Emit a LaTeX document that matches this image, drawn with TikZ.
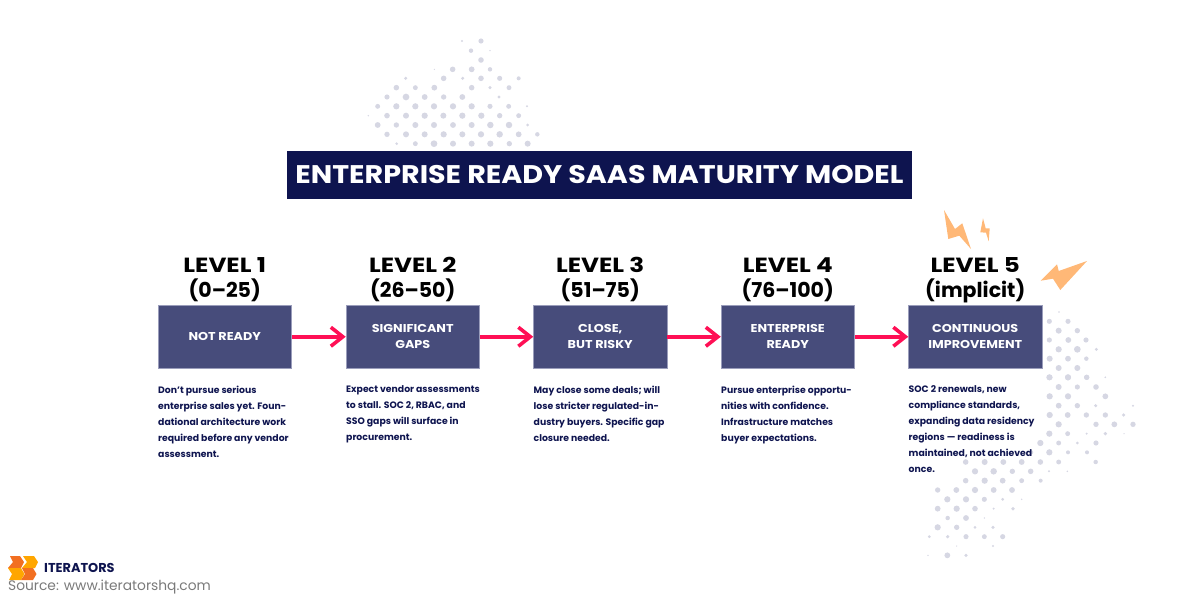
\documentclass[tikz,border=0pt]{standalone}
\usepackage{fontspec}
\setmainfont{Poppins}
\newfontfamily\widefont[FakeStretch=1.12]{Poppins}
\newfontfamily\widerfont[FakeStretch=1.2]{Poppins}
\usetikzlibrary{arrows.meta}
\definecolor{navy}{HTML}{0E144F}
\definecolor{boxfill}{HTML}{474C7B}
\definecolor{boxedge}{HTML}{9A9DBB}
\definecolor{dotc}{HTML}{D6D7E3}
\definecolor{flow}{HTML}{FF0F55}
\definecolor{bolt}{HTML}{FFB877}
\definecolor{logoA}{HTML}{F26F21}
\definecolor{logoB}{HTML}{FFA600}
\definecolor{srcgrey}{HTML}{7A7A7A}
\tikzset{
  x=1pt,y=-1pt,
  dot/.style={fill=dotc},
  boltshape/.style={fill=bolt},
  titlebox/.style={fill=navy,minimum width=625pt,minimum height=48pt,inner sep=0pt,text=white,font=\widefont\fontsize{25.5}{25.5}\selectfont\bfseries},
  levelbox/.style={fill=boxfill,draw=boxedge,line width=.5pt,minimum width=133.5pt,minimum height=62.5pt,inner sep=0pt,text=white,align=center,font=\widefont\fontsize{11.4}{16}\selectfont\bfseries},
  leveltext/.style={anchor=south,align=center,inner sep=0pt,text depth=0pt,text=black,font=\fontsize{20.5}{25}\selectfont\bfseries},
  desc/.style={anchor=north west,align=left,inner sep=0pt,text=navy,font=\fontsize{9.3}{16}\selectfont\bfseries},
  flowline/.style={draw=flow,line width=4pt,-{Straight Barb[length=12pt,width=19pt,line width=3.6pt]}},
}
\begin{document}
\begin{tikzpicture}
\useasboundingbox (0,0) rectangle (1200,600);
% dots top
\foreach \a/\b/\r in {306/33/1,363/33/2.3,333/62/2,390/62/.7,363/90/2.5,223/118/.6,278/118/2.5,335/118/2.6,390/118/2,137/145/1.5,251/145/2.5,308/145/1.5,363/145/2.5,419/145/2.3,476/145/1.8,109/173/2.5,166/173/2.2,223/173/2.6,335/173/2.5,390/173/1.5,447/173/2.2,81/201/2.3,138/201/3,194/201/2.6,251/201/2.4,307/201/2.6,417/201/1.5,53/229/2.2,109/229/2.8,166/229/2.8,222/229/2.8,279/229/2.8,335/229/2.8,390/229/2.3,446/229/2.2,501/229/1,25/257/.7,81/257/2.5,138/257/2.7,194/257/2.8,250/257/2.7,307/257/2.8,364/257/2.8,419/257/2.4,476/257/2.2,53/285/2.6,109/285/2.4,166/285/2.7,222/285/2.7,279/285/2.6,335/285/2.7,391/285/2.9,447/285/2.9,503/285/1.4,81/313/2.4,138/313/2.7,194/313/2.7,251/313/2.8,307/313/2.7,363/313/2.8,419/313/2.9,476/313/2.6,532/313/2,110/341/1.3,166/341/2.2,222/341/3,279/341/2.7,335/341/2.7,391/341/2.8,448/341/2.4,503/341/2.7}
  \fill[dot] ({360+\a/3},{30+\b/3}) circle ({\r*1.12});
% dots right upper
\foreach \a/\b/\r in {417/336/.7,388/364/2.3,444/364/2.3,416/392/2.7,472/392/2.4,388/420/2.3,445/420/2.6,498/420/2.3,416/448/2.8,472/448/3,529/448/1.5,389/476/2.7,444/476/2.6,499/476/2,416/504/2.7,472/504/2.7,388/532/2.7,444/532/2.7,500/532/2.4,556/532/.7}
  \fill[dot] ({920+\a/3},{200+\b/3}) circle ({\r*1.12});
% dots right lower
\foreach \a/\b/\r in {449/22/2.6,504/22/2.7,560/22/2.3,616/22/.7,476/51/2.7,532/51/2.3,588/51/2.5,449/79/2.8,504/79/2.8,616/79/2.6,476/107/2.6,532/107/2.4,587/107/1.5,699/107/1,449/135/2.8,503/135/2.6,559/135/2.4,616/135/2.4,671/135/1.6,476/163/2.8,588/163/2.4,643/163/2.6,699/163/2.4,448/191/2.8,503/191/2.2,560/191/1,616/191/1.7,672/191/.6,421/219/2.8,476/219/2.2,532/219/1.3,588/219/2.3,393/247/2,448/247/2.8,504/247/1.8,561/247/1.8,197/276/2.5,254/276/2.7,310/276/2.6,365/276/2.6,421/276/2.5,476/276/2.2,587/276/2,225/304/2.8,281/304/2.9,337/304/2.4,392/304/2.5,447/304/1,502/304/.8,197/332/2.5,254/332/2.8,308/332/2.6,365/332/2.2,422/332/1.8,113/360/2.4,169/360/2.6,225/360/2.8,281/360/2.6,336/360/2.6,142/388/2.8,198/388/2.8,253/388/2.3,308/388/1.4,365/388/.7,113/416/2.6,170/416/2.8,225/416/2.5,281/416/1,339/416/1.7,143/444/2,198/444/2.6,253/444/.7,113/472/2.8,170/472/2.4,225/472/1.3,279/472/1.6,88/500/1.4,143/500/1.6,198/500/2.3,253/500/2.2,308/500/2.3,170/528/.6,279/528/1,84/556/.7,142/556/2.6,198/556/1.6}
  \fill[dot] ({900+\a/3},{370+\b/3}) circle ({\r*1.12});
% bolts
\fill[boltshape] (944,210) -- (955,229) -- (962.3,223.3) -- (971,249) -- (959.3,235.7) -- (948.3,239) -- cycle;
\fill[boltshape] (983,218.3) -- (985.7,228.3) -- (989.7,228.3) -- (988.7,241.3) -- (986,232.7) -- (980.3,232.3) -- cycle;
\fill[boltshape] (1087,261) -- (1060.3,290) -- (1053,278.7) -- (1040.7,280.7) -- (1057,264.3) -- (1058.7,271) -- cycle;
% title
\node[titlebox] (title) at (599.5,175) {ENTERPRISE READY SAAS MATURITY MODEL};
% boxes
\node[levelbox] (b1) at (224.75,336.75) {NOT READY};
\node[levelbox] (b2) at (412.75,336.75) {SIGNIFICANT\\GAPS};
\node[levelbox] (b3) at (600.25,336.75) {CLOSE,\\BUT RISKY};
\node[levelbox] (b4) at (787.75,336.75) {ENTERPRISE\\READY};
\node[levelbox] (b5) at (975.25,336.75) {CONTINUOUS\\IMPROVEMENT};
% level headings
\node[leveltext] (l1) at (224.75,297.5) {{\widerfont LEVEL 1}\\(0–25)};
\node[leveltext] (l2) at (412.75,297.5) {{\widerfont LEVEL 2}\\(26–50)};
\node[leveltext] (l3) at (600.25,297.5) {{\widerfont LEVEL 3}\\(51–75)};
\node[leveltext] (l4) at (787.75,297.5) {{\widerfont LEVEL 4}\\(76–100)};
\node[leveltext] (l5) at (975.25,297.5) {{\widerfont LEVEL 5}\\(implicit)};
% descriptions
\node[desc] (d1) at (158,385.5) {Don’t pursue serious\\enterprise sales yet. Foun-\\dational architecture work\\required before any vendor\\assessment.};
\node[desc] (d2) at (346,385.5) {Expect vendor assessments\\to stall. SOC 2, RBAC, and\\SSO gaps will surface in\\procurement.};
\node[desc] (d3) at (533.5,385.5) {May close some deals; will\\lose stricter regulated-in-\\dustry buyers. Specific gap\\closure needed.};
\node[desc] (d4) at (721,385.5) {Pursue enterprise opportu-\\nities with confidence.\\Infrastructure matches\\buyer expectations.};
\node[desc] (d5) at (908.5,385.5) {SOC 2 renewals, new\\compliance standards,\\expanding data residency\\regions — readiness is\\maintained, not achieved\\once.};
% connectors
\draw[flowline] (b1) -- (b2);
\draw[flowline] (b2) -- (b3);
\draw[flowline] (b3) -- (b4);
\draw[flowline] (b4) -- (b5);
% logo
\fill[logoA] (10,556) -- (20,556) -- (24,562) -- (21,568) -- (8,568) -- (13,562) -- cycle;
\fill[logoB] (23,556) -- (34,556) -- (38,562) -- (35,568) -- (22,568) -- (27,562) -- cycle;
\fill[logoB] (8,568) -- (21,568) -- (24.5,574) -- (21,580) -- (9,580) -- (12,574) -- cycle;
\fill[logoA] (22,568) -- (33,568) -- (36.5,574) -- (33,580) -- (21,580) -- (25,574) -- cycle;
\node[anchor=west,inner sep=0pt,text=navy,font=\fontsize{12.9}{12}\selectfont\bfseries] (brand) at (44,568) {ITERATORS};
\node[anchor=west,inner sep=0pt,text=srcgrey,font=\fontsize{13.8}{14}\selectfont] (source) at (8,587.5) {Source: www.iteratorshq.com};
\end{tikzpicture}
\end{document}
